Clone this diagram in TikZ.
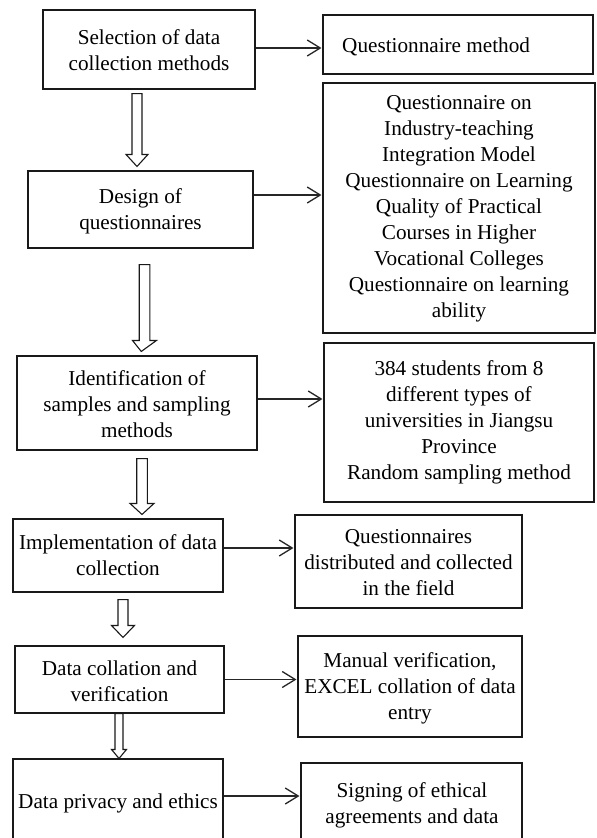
\documentclass[tikz,border=0pt]{standalone}
\usepackage{fontspec}
\setmainfont{Liberation Serif}
\usetikzlibrary{arrows.meta,calc,fit}

\tikzset{
  % rectangular frame spanned by two corner points
  boxframe/.style={draw=black!90, line width=1.1pt, inner sep=0pt, fit={#1}},
  % label text inside a frame
  txt/.style={font=\fontsize{21.2}{26}\selectfont, align=center, inner sep=0pt, text=black},
  % open-headed horizontal link
  link/.style={draw=black!85, line width=1.3pt, -{Straight Barb[length=13pt,width=16pt,line width=1.3pt]}, shorten >=1pt},
  % hollow block arrow: shaft half width, head half width, head length
  hollow/.style n args={3}{draw=black!90, line width=1.1pt, to path={
    let \p1=(\tikztostart), \p2=(\tikztotarget) in
    (\x1-#1,\y1) -- (\x1-#1,\y2+#3) -- (\x1-#2,\y2+#3) -- (\x2,\y2)
    -- (\x1+#2,\y2+#3) -- (\x1+#1,\y2+#3) -- (\x1+#1,\y1) -- cycle}},
}

\begin{document}
\begin{tikzpicture}[x=1pt, y=-1pt]
\useasboundingbox (0,0) rectangle (597,838);
\clip (0,0) rectangle (597,838);
\fill[white] (0,0) rectangle (597,838);

% ---- process steps (left column)
\node[boxframe={(43,10) (255,89)}]   (b1) {};
\node[boxframe={(28,171) (253,248)}] (b2) {};
\node[boxframe={(17,356) (257,450)}] (b3) {};
\node[boxframe={(13,519) (223,592)}] (b4) {};
\node[boxframe={(15,646) (224,713)}] (b5) {};
\node[boxframe={(13,759) (223,852)}] (b6) {};

\node[txt] (t1) at (149,50)    {Selection of data\\collection methods};
\node[txt] (t2) at (140.5,211.5) {Design of\\questionnaires};
\node[txt] (t3) at (137,404)   {Identification of\\samples and sampling\\methods};
\node[txt] (t4) at (118,555.5) {Implementation of data\\collection};
\node[txt] (t5) at (119.5,681) {Data collation and\\verification};
\node[txt] (t6) at (118,803)   {Data privacy and ethics};

% ---- details (right column)
\node[boxframe={(323,15) (593,74)}]   (r1) {};
\node[boxframe={(323,83) (595,333)}]  (r2) {};
\node[boxframe={(324,343) (594,502)}] (r3) {};
\node[boxframe={(295,515) (522,608)}] (r4) {};
\node[boxframe={(298,636) (522,737)}] (r5) {};
\node[boxframe={(301,763) (522,852)}] (r6) {};

\node[txt, anchor=west] (s1) at (342,47) {Questionnaire method};
\node[txt] (s2) at (459,208.5) {Questionnaire on\\Industry-teaching\\Integration Model\\Questionnaire on Learning\\Quality of Practical\\Courses in Higher\\Vocational Colleges\\Questionnaire on learning\\ability};
\node[txt] (s3) at (459,422) {384 students from 8\\different types of\\universities in Jiangsu\\Province\\Random sampling method};
\node[txt] (s4) at (408.5,563) {Questionnaires\\distributed and collected\\in the field};
\node[txt] (s5) at (410,688) {Manual verification,\\EXCEL collation of data\\entry};
\node[txt] (s6) at (412,805) {Signing of ethical\\agreements and data};

% ---- hollow arrows between steps
\draw[hollow={5pt}{11pt}{12pt}] ([xshift=-12pt,yshift=-4pt]b1.south) to ([xshift=-3.5pt,yshift=4pt]b2.north);
\draw[hollow={5.3pt}{12pt}{11pt}] ([xshift=4pt,yshift=-16pt]b2.south) to ([xshift=4.3pt,yshift=4pt]b3.north);
\draw[hollow={5.3pt}{12pt}{11pt}] ([xshift=5pt,yshift=-8pt]b3.south) to ([xshift=24pt,yshift=4pt]b4.north);
\draw[hollow={5pt}{11.5pt}{12pt}] ([xshift=5pt,yshift=-7pt]b4.south) to ([xshift=3.5pt,yshift=8pt]b5.north);
\draw[hollow={4pt}{7.5pt}{9pt}] ([xshift=-0.5pt,yshift=0pt]b5.south) to ([xshift=1pt,yshift=0pt]b6.north);

% ---- links from steps to details
\coordinate (a1) at ([yshift=1.5pt]b1.east);
\coordinate (a2) at ([yshift=14.5pt]b2.east);
\coordinate (a3) at ([yshift=4pt]b3.east);
\coordinate (a4) at ([yshift=7.5pt]b4.east);
\coordinate (a5) at ([yshift=0pt]b5.east);
\coordinate (a6) at ([yshift=9.5pt]b6.east);
\draw[link] (a1) -- (a1 -| r1.west);
\draw[link] (a2) -- (a2 -| r2.west);
\draw[link] (a3) -- (a3 -| r3.west);
\draw[link] (a4) -- (a4 -| r4.west);
\draw[link] (a5) -- (a5 -| r5.west);
\draw[link] (a6) -- (a6 -| r6.west);
\end{tikzpicture}
\end{document}
